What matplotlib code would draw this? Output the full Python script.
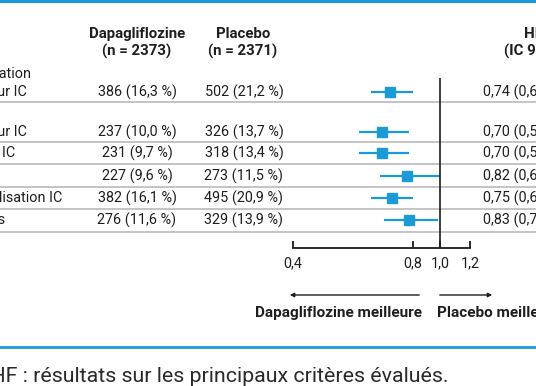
import numpy as np
import matplotlib.pyplot as plt
from matplotlib.scale import FuncScale

plt.rcParams['font.family'] = ['Roboto', 'DejaVu Sans']

# data
labels = [
    ["Critère principal : décès CV, hospitalisation", "ou visite en urgence pour IC"],
    ["Hospitalisation ou visite urgente pour IC"],
    ["Hospitalisation pour IC"],
    ["Décès CV"],
    ["Décès CV ou hospitalisation IC"],
    ["Décès toutes causes"],
]
dapa_txt = ["386 (16,3 %)", "237 (10,0 %)", "231 (9,7 %)", "227 (9,6 %)", "382 (16,1 %)", "276 (11,6 %)"]
plac_txt = ["502 (21,2 %)", "326 (13,7 %)", "318 (13,4 %)", "273 (11,5 %)", "495 (20,9 %)", "329 (13,9 %)"]
hr = [0.74, 0.70, 0.70, 0.82, 0.75, 0.83]
lo = [0.65, 0.59, 0.59, 0.69, 0.65, 0.71]
hi = [0.85, 0.83, 0.83, 0.98, 0.85, 0.97]
scale_ticks = [0.4, 0.8, 1.0, 1.2]

def fr(v):
    return ("%.2f" % v).replace(".", ",")

hr_txt = ["%s (%s-%s)" % (fr(h), fr(a), fr(b)) for h, a, b in zip(hr, lo, hi)]

# layout (pixels)
W, H = 536, 386
row_y = [92, 132, 153, 176, 198, 220]
label_end = [27, 27, 15, -4, 62, 5]
sep_y = [102, 142, 164, 187, 209, 232]
blue = '#1b9ad6'
ink = '#1e1e1e'
fs = 10.4
fsb = 10.8

fig = plt.figure(figsize=(W / 100, H / 100), dpi=100)
bg = fig.add_axes([0, 0, 1, 1])
bg.set_xlim(0, W)
bg.set_ylim(H, 0)
bg.axis('off')

bg.axhline(1, color=blue, lw=2.2)
bg.axhline(347, color=blue, lw=2.0)
for y in sep_y:
    bg.axhline(y, color='#b4b4b4', lw=1.1)

bg.text(137, 43, "Dapagliflozine\n(n = 2373)", ha='center', va='center', fontsize=fsb,
        fontweight='bold', linespacing=1.2, color=ink)
bg.text(243, 43, "Placebo\n(n = 2371)", ha='center', va='center', fontsize=fsb,
        fontweight='bold', linespacing=1.2, color=ink)
bg.text(534, 43, "HR\n(IC 95 %)", ha='center', va='center', fontsize=fsb,
        fontweight='bold', linespacing=1.2, color=ink)

for i, y in enumerate(row_y):
    lab = labels[i]
    if len(lab) == 2:
        bg.text(31, y - 18, lab[0], ha='right', va='center', fontsize=fs, color=ink)
        bg.text(label_end[i], y, lab[1], ha='right', va='center', fontsize=fs, color=ink)
    else:
        bg.text(label_end[i], y, lab[0], ha='right', va='center', fontsize=fs, color=ink)
    bg.text(137, y, dapa_txt[i], ha='center', va='center', fontsize=fs, color=ink)
    bg.text(244, y, plac_txt[i], ha='center', va='center', fontsize=fs, color=ink)
    bg.text(483, y, hr_txt[i], ha='left', va='center', fontsize=fs, color=ink)

# arrows and captions
bg.annotate("", xy=(287, 295), xytext=(422, 295),
            arrowprops=dict(arrowstyle='-|>', color=ink, lw=1.0, mutation_scale=6))
bg.annotate("", xy=(495, 295), xytext=(437, 295),
            arrowprops=dict(arrowstyle='-|>', color=ink, lw=1.0, mutation_scale=6))
bg.text(422, 313, "Dapagliflozine meilleure", ha='right', va='center', fontsize=11.0,
        fontweight='bold', color=ink)
bg.text(437, 313, "Placebo meilleur", ha='left', va='center', fontsize=11.0,
        fontweight='bold', color=ink)
bg.text(448, 376, "Figure 3. DAPA-HF : résultats sur les principaux critères évalués.",
        ha='right', va='center', fontsize=15.4, color='#2a2a2a')

# forest markers: x in HR units, y in pixel rows
fa = fig.add_axes([0, 0, 1, 1])
px_per_unit = 208
x_one = 444
fa.set_xlim(1.0 - x_one / px_per_unit, 1.0 + (W - x_one) / px_per_unit)
fa.set_ylim(H, 0)
fa.axis('off')
fa.patch.set_alpha(0)
fa.hlines(row_y, lo, hi, color=blue, lw=1.6)
fa.plot(hr, row_y, 's', color=blue, markersize=6.5)

# scale bar axis (as drawn in the original, not linear)
kp = [0.4, 0.8, 1.0, 1.2]
pp = [0, 120, 147, 177]
sa = fig.add_axes([293 / W, 1 - 248 / H, 177 / W, (248 - 78) / H])
sa.set_xscale(FuncScale(sa.xaxis, (lambda v: np.interp(v, kp, pp),
                                   lambda p: np.interp(p, pp, kp))))
sa.set_xlim(0.4, 1.2)
sa.set_ylim(0, 1)
sa.patch.set_alpha(0)
for s in ['top', 'left', 'right']:
    sa.spines[s].set_visible(False)
sa.spines['bottom'].set_linewidth(1.3)
sa.spines['bottom'].set_color(ink)
sa.set_yticks([])
sa.set_xticks(scale_ticks)
sa.set_xticklabels([("%.1f" % t).replace(".", ",") for t in scale_ticks], fontsize=fs, color=ink)
sa.tick_params(axis='x', direction='in', length=5, width=1.3, pad=6, color=ink)
sa.axvline(1.0, ymin=0, ymax=1, color=ink, lw=1.2)

fig.savefig('out.png', dpi=100)
